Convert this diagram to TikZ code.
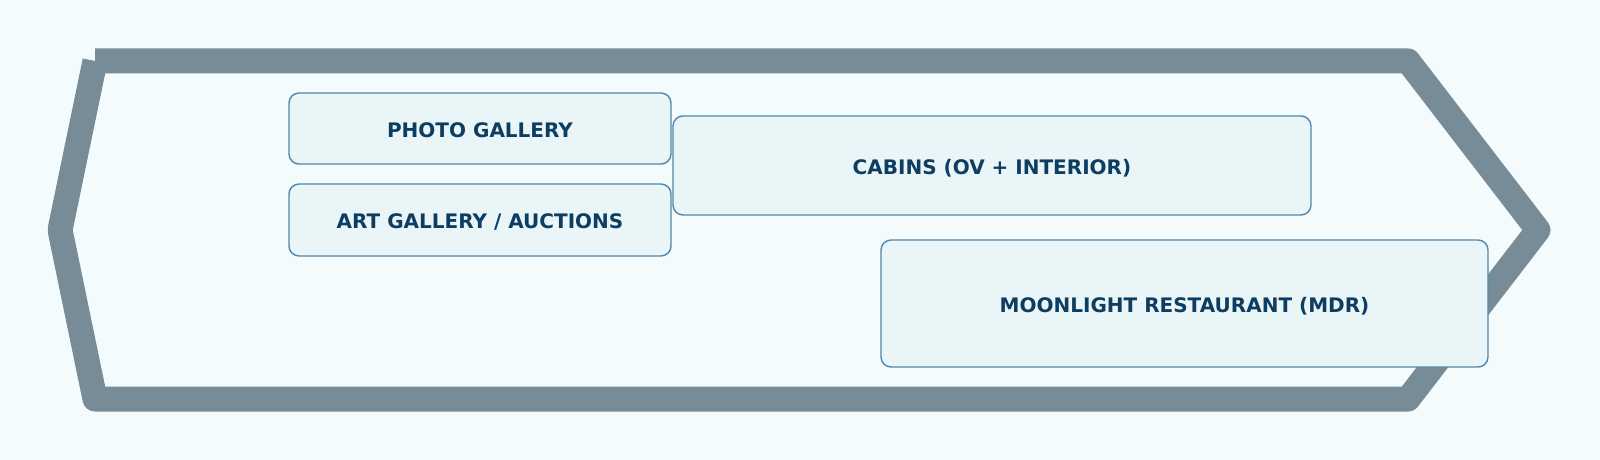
\documentclass[tikz,border=0pt]{standalone}
\usepackage{fontspec}
\setmainfont{DejaVu Sans}
\usepackage{xcolor}
\usepackage{tikz}

\definecolor{deckbg}{HTML}{F4FBFD}
\definecolor{hullgrey}{HTML}{788C97}
\definecolor{roomfill}{HTML}{EAF5F7}
\definecolor{roomedge}{HTML}{5087AD}
\definecolor{roomtext}{HTML}{0E3D62}

\tikzset{
    room/.style={draw=roomedge, fill=roomfill, line width=0.7pt, rounded corners=5pt,
        text=roomtext, font=\bfseries\fontsize{10}{12}\selectfont, inner sep=0pt,
        text height=8.8pt, text depth=0pt}
}

\begin{document}
\begin{tikzpicture}[x=0.5pt, y=-0.5pt]
        % background
        \fill[deckbg] (0, 0) rectangle (1600, 460);
        \useasboundingbox (0, 0) rectangle (1600, 460);

        % hull outline (deck arrow)
        \draw[hullgrey, line width=12.5pt, line cap=butt, line join=round]
            (95, 61) -- (60, 230) -- (95, 399) -- (1408, 399) -- (1538, 230) -- (1408, 61) -- (95, 61);

        % venues
        \node[room, minimum width=191pt, minimum height=35.5pt] (photo) at (480, 128.5) {PHOTO GALLERY};
        \node[room, minimum width=191pt, minimum height=36pt] (art) at (480, 220) {ART GALLERY / AUCTIONS};
        \node[room, minimum width=319pt, minimum height=49.5pt] (cabins) at (992, 165.5) {CABINS (OV + INTERIOR)};
        \node[room, minimum width=303.5pt, minimum height=63.5pt] (mdr) at (1184.5, 303.5) {MOONLIGHT RESTAURANT (MDR)};
    \end{tikzpicture}
\end{document}
